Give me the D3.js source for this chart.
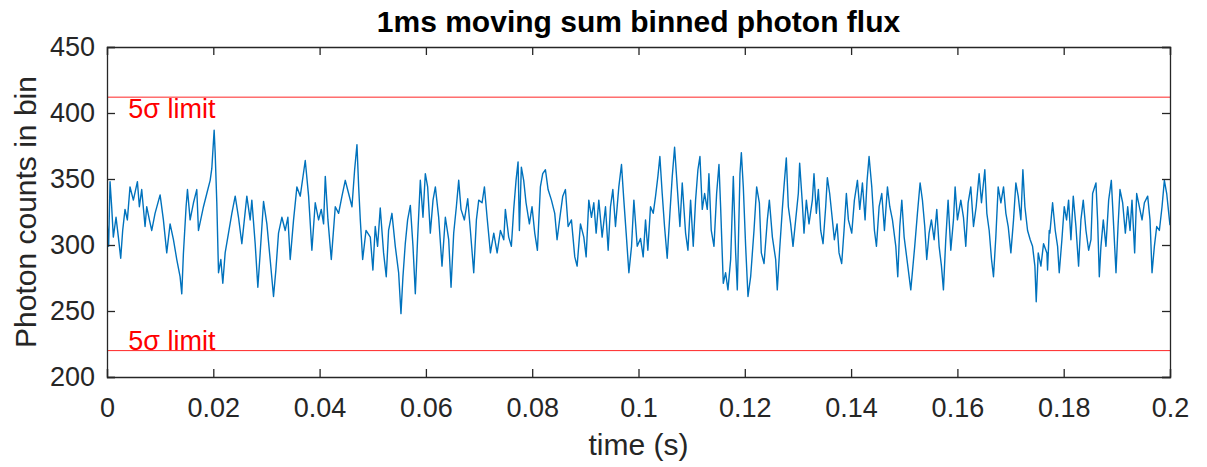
<!DOCTYPE html>
<html>
<head>
<meta charset="utf-8">
<script src="https://cdn.jsdelivr.net/npm/d3@7"></script>
<style>
  body { margin: 0; background: #fff; }
  text { font-family: "Liberation Sans", Arial, sans-serif; }
</style>
</head>
<body>
<script>
// time in ms, photon counts in a 1 ms moving-sum bin
const timeMs = [
  0, 0.31, 0.57, 0.88, 1.19, 1.70, 2.14, 2.58, 2.95, 3.39, 3.83, 4.33, 4.96, 5.72, 6.09, 6.53, 7.16, 7.47, 7.98, 8.42,
  9.04, 9.99, 10.61, 11.24, 11.87, 12.50, 13.13, 13.75, 14.07, 14.38, 14.88, 15.14, 15.64, 16.27, 16.89, 17.21, 18.15, 18.78, 19.41, 19.72,
  20.16, 20.35, 20.66, 20.98, 21.42, 21.79, 22.23, 22.86, 23.49, 24.12, 24.74, 25.37, 26.31, 26.94, 27.25, 27.88, 28.38, 28.82, 29.45, 30.08,
  30.70, 31.33, 31.77, 32.27, 32.90, 33.53, 34.03, 34.47, 35.10, 35.73, 36.36, 37.30, 37.93, 38.55, 39.18, 39.81, 40.31, 40.75, 41.07, 41.57,
  42.20, 42.95, 43.58, 44.21, 44.83, 45.46, 46.09, 46.59, 47.03, 47.35, 47.66, 48.10, 48.73, 49.54, 50.03, 50.47, 50.91, 51.41, 52.04, 52.54,
  52.98, 53.61, 54.24, 54.87, 55.31, 55.68, 56.12, 56.56, 57.07, 57.57, 58.01, 58.45, 58.95, 59.45, 59.89, 60.33, 60.83, 61.34, 61.78, 62.40,
  63.03, 63.66, 64.29, 64.73, 65.23, 65.73, 66.17, 66.61, 67.24, 67.87, 68.37, 69.00, 69.50, 69.94, 70.57, 71.01, 71.51, 72.14, 72.77, 73.40,
  74.02, 74.65, 74.95, 75.58, 76.08, 76.52, 76.96, 77.34, 77.59, 77.96, 78.40, 78.84, 79.47, 79.97, 80.48, 80.98, 81.54, 81.98, 82.49, 82.99,
  83.62, 84.24, 84.68, 85.31, 85.75, 86.25, 86.76, 87.38, 88.01, 88.45, 89.08, 89.71, 90.15, 90.65, 91.15, 91.59, 92.03, 92.53, 93.16, 93.79,
  94.29, 94.73, 95.17, 95.67, 96.30, 96.80, 97.24, 97.68, 98.19, 98.69, 99.13, 99.76, 100.38, 100.88, 101.32, 101.76, 102.26, 102.77, 103.21, 103.65,
  104.02, 104.46, 104.90, 105.40, 105.91, 106.35, 106.79, 107.29, 107.79, 108.23, 108.86, 109.30, 109.80, 110.30, 110.74, 111.18, 111.56, 112.00, 112.44, 112.94,
  113.25, 113.69, 114.20, 114.70, 115.14, 115.45, 115.95, 116.39, 116.83, 117.34, 117.84, 118.28, 118.59, 119.09, 119.35, 119.72, 120.16, 120.60, 121.10, 121.73,
  122.23, 122.74, 123.11, 123.62, 124.24, 124.62, 125.19, 125.81, 126.11, 126.55, 127.06, 127.37, 127.81, 128.19, 128.63, 129.07, 129.57, 130.07, 130.32, 130.82,
  131.14, 131.58, 132.08, 132.71, 133.02, 133.46, 133.84, 134.28, 134.72, 135.22, 135.53, 135.97, 136.48, 136.85, 137.36, 137.73, 138.23, 138.67, 139.11, 139.49,
  140.12, 140.62, 141.19, 141.63, 142.13, 142.63, 143.01, 143.38, 143.89, 144.39, 144.77, 145.27, 145.77, 146.27, 146.84, 147.28, 147.78, 148.41, 148.78, 149.16,
  149.54, 149.98, 150.61, 151.23, 151.97, 152.48, 152.98, 153.42, 153.86, 154.23, 154.67, 155.11, 155.62, 156.12, 156.56, 157.00, 157.37, 157.81, 158.25, 158.76,
  159.26, 159.57, 160.01, 160.64, 161.14, 161.58, 162.02, 162.52, 163.03, 163.53, 164.09, 164.53, 165.16, 165.54, 165.98, 166.42, 166.79, 167.23, 167.67, 168.18,
  168.68, 169.12, 169.56, 170.06, 170.56, 171.00, 171.44, 171.94, 172.32, 172.70, 173.20, 173.70, 174.14, 174.58, 174.83, 175.21, 175.71, 176.21, 176.84, 176.96,
  177.28, 177.40, 177.91, 178.41, 178.85, 179.16, 179.66, 180.10, 180.54, 180.92, 181.36, 181.80, 182.30, 182.80, 183.24, 183.68, 184.19, 184.69, 185.13, 185.44,
  186.07, 186.38, 186.70, 187.01, 187.45, 187.95, 188.46, 188.96, 189.34, 189.84, 190.22, 190.59, 191.09, 191.60, 192.04, 192.48, 192.85, 193.35, 193.73, 194.23,
  194.74, 195.18, 195.80, 196.24, 196.62, 197.06, 197.50, 198.00, 198.50, 198.94, 199.38, 199.89, 200
];
const counts = [
  319, 299, 348, 329, 306, 321, 306, 290, 311, 327, 319, 344, 334, 348, 329, 342, 314, 329, 319, 311,
  324, 338, 319, 294, 316, 304, 289, 276, 263, 294, 329, 342, 319, 332, 342, 311, 329, 339, 349, 358,
  387, 370, 332, 279, 289, 271, 294, 309, 324, 337, 321, 301, 337, 319, 334, 301, 268, 294, 333, 316,
  289, 261, 281, 309, 321, 311, 321, 289, 319, 344, 337, 364, 337, 296, 332, 319, 327, 316, 352, 319,
  289, 329, 324, 337, 349, 339, 329, 357, 376, 344, 319, 289, 311, 306, 281, 314, 299, 328, 294, 276,
  311, 324, 299, 279, 248, 276, 301, 319, 330, 299, 263, 306, 349, 321, 354, 344, 309, 334, 344, 321,
  284, 321, 304, 268, 309, 329, 349, 327, 319, 335, 311, 279, 319, 334, 332, 344, 321, 294, 309, 294,
  311, 304, 327, 306, 299, 327, 349, 363, 311, 359, 349, 332, 316, 329, 309, 296, 344, 354, 357, 342,
  334, 324, 304, 324, 337, 342, 314, 319, 291, 284, 316, 306, 291, 334, 321, 332, 309, 334, 306, 329,
  296, 329, 342, 314, 344, 361, 334, 309, 279, 299, 334, 299, 305, 291, 319, 296, 329, 324, 337, 352,
  367, 339, 314, 290, 324, 352, 374, 344, 314, 347, 309, 296, 334, 299, 334, 357, 367, 327, 339, 327,
  354, 311, 299, 339, 361, 329, 271, 279, 266, 289, 352, 294, 266, 354, 370, 344, 299, 261, 276, 311,
  344, 332, 294, 286, 319, 334, 306, 289, 266, 296, 327, 344, 366, 329, 316, 299, 319, 339, 362, 332,
  309, 334, 316, 334, 354, 324, 342, 311, 301, 329, 351, 339, 319, 304, 316, 294, 286, 311, 339, 319,
  309, 334, 349, 327, 347, 319, 349, 367, 344, 311, 299, 329, 339, 311, 344, 329, 319, 299, 276, 314,
  334, 306, 286, 266, 299, 324, 347, 334, 314, 289, 309, 319, 304, 327, 299, 284, 266, 304, 334, 296,
  319, 344, 319, 334, 321, 299, 332, 344, 314, 329, 354, 332, 357, 324, 311, 289, 276, 306, 344, 332,
  344, 324, 314, 294, 319, 347, 337, 319, 357, 329, 311, 304, 299, 284, 257, 294, 284, 301, 294, 281,
  311, 309, 332, 311, 299, 279, 304, 329, 319, 334, 304, 337, 314, 284, 319, 334, 311, 296, 304, 339,
  347, 319, 276, 299, 319, 299, 334, 349, 319, 279, 314, 342, 332, 309, 329, 311, 334, 294, 339, 329,
  319, 332, 337, 319, 279, 299, 314, 311, 329, 349, 339, 319, 315
];
const limits = [412, 220];           // upper / lower 5 sigma limit
const limitLabel = "5\u03c3 limit";
const xTicks = [0, 0.02, 0.04, 0.06, 0.08, 0.1, 0.12, 0.14, 0.16, 0.18, 0.2];
const yTicks = [200, 250, 300, 350, 400, 450];

const W = 1207, H = 467;
const margin = { top: 47, right: 37, bottom: 90, left: 107 };
const iw = W - margin.left - margin.right;
const ih = H - margin.top - margin.bottom;
const axisColor = "#262626";

const svg = d3.select("body").append("svg")
  .attr("width", W).attr("height", H);

const x = d3.scaleLinear().domain([0, 0.2]).range([margin.left, margin.left + iw]);
const y = d3.scaleLinear().domain([200, 450]).range([margin.top + ih, margin.top]);

// clip so nothing leaks outside the box
svg.append("clipPath").attr("id", "plotclip")
  .append("rect")
  .attr("x", margin.left).attr("y", margin.top)
  .attr("width", iw).attr("height", ih);

const plot = svg.append("g").attr("clip-path", "url(#plotclip)");

const series = timeMs.map((t, i) => ({ t: t / 1000, v: counts[i] }));

plot.append("path")
  .datum(series)
  .attr("fill", "none")
  .attr("stroke", "#0072BD")
  .attr("stroke-width", 1.4)
  .attr("stroke-linejoin", "round")
  .attr("d", d3.line().x(d => x(d.t)).y(d => y(d.v)));

// 5 sigma lines
plot.selectAll(".limit")
  .data(limits)
  .join("line")
  .attr("class", "limit")
  .attr("x1", margin.left).attr("x2", margin.left + iw)
  .attr("y1", d => y(d)).attr("y2", d => y(d))
  .attr("stroke", "#FF0000")
  .attr("stroke-width", 1)
  .attr("opacity", 0.85);

// upper label sits under its line, lower label above its line
svg.selectAll(".limit-label")
  .data(limits)
  .join("text")
  .attr("class", "limit-label")
  .attr("x", x(0.004))
  .attr("y", (d, i) => i === 0 ? y(d) + 21 : y(d) - 1)
  .attr("fill", "#FF0000")
  .style("font-size", "27px")
  .text(limitLabel);

// axes (MATLAB style box, ticks pointing in)
const tickLen = 8;
const xAxisB = d3.axisBottom(x).tickValues(xTicks).tickSize(-tickLen).tickPadding(21)
  .tickFormat(d => d3.format("~g")(d));
const xAxisT = d3.axisTop(x).tickValues(xTicks).tickSize(-tickLen).tickFormat("");
const yAxisL = d3.axisLeft(y).tickValues(yTicks).tickSize(-tickLen).tickPadding(12);
const yAxisR = d3.axisRight(y).tickValues(yTicks).tickSize(-tickLen).tickFormat("");

function styleAxis(g) {
  g.select(".domain").attr("stroke", axisColor).attr("stroke-width", 1.3);
  g.selectAll(".tick line").attr("stroke", axisColor).attr("stroke-width", 1.3);
  g.selectAll(".tick text")
    .attr("fill", axisColor)
    .style("font-size", "27px")
    .style("font-family", "'Liberation Sans', Arial, sans-serif");
}

svg.append("g").attr("transform", `translate(0,${margin.top + ih})`).call(xAxisB).call(styleAxis);
svg.append("g").attr("transform", `translate(0,${margin.top})`).call(xAxisT).call(styleAxis);
svg.append("g").attr("transform", `translate(${margin.left},0)`).call(yAxisL).call(styleAxis);
svg.append("g").attr("transform", `translate(${margin.left + iw},0)`).call(yAxisR).call(styleAxis);

// titles
svg.append("text")
  .attr("x", margin.left + iw / 2).attr("y", 32)
  .attr("text-anchor", "middle")
  .attr("fill", "#000")
  .style("font-size", "30px").style("font-weight", "bold")
  .text("1ms moving sum binned photon flux");

svg.append("text")
  .attr("x", margin.left + iw / 2).attr("y", 455)
  .attr("text-anchor", "middle")
  .attr("fill", axisColor)
  .style("font-size", "30px")
  .text("time (s)");

svg.append("text")
  .attr("transform", `translate(36,${margin.top + ih / 2}) rotate(-90)`)
  .attr("text-anchor", "middle")
  .attr("fill", axisColor)
  .style("font-size", "30px")
  .text("Photon counts in bin");
</script>
</body>
</html>
